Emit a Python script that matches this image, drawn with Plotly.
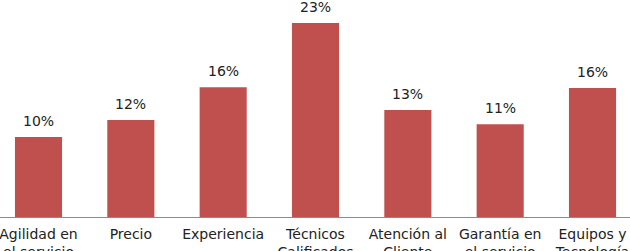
import plotly.graph_objects as go

categories = ["Agilidad en<br>el servicio", "Precio", "Experiencia", "Técnicos<br>Calificados",
              "Atención al<br>Cliente", "Garantía en<br>el servicio", "Equipos y<br>Tecnología"]
values = [9.5, 11.5, 15.4, 23.0, 12.7, 11.0, 15.3]
labels = ["10%", "12%", "16%", "23%", "13%", "11%", "16%"]

fig = go.Figure(go.Bar(
    x=categories, y=values,
    marker=dict(color="#C0504D", line=dict(width=0)),
    cliponaxis=False,
))
for c, v, t in zip(categories, values, labels):
    fig.add_annotation(x=c, y=v, text=t, showarrow=False, yanchor="bottom", yshift=6,
                       font=dict(family="DejaVu Sans", size=14, color="#222222"))
fig.update_layout(
    width=630, height=251,
    margin=dict(l=0, r=0, t=0, b=34),
    paper_bgcolor="white", plot_bgcolor="white",
    bargap=0.49, showlegend=False,
    font=dict(family="DejaVu Sans", size=14, color="#222222"),
)
fig.update_xaxes(range=[-0.417, 6.406], showline=True, linecolor="#8c8c8c", linewidth=1,
                 ticks="", showgrid=False, tickfont=dict(size=14, color="#222222"),
                 ticklabelstandoff=4, automargin=False)
fig.update_yaxes(range=[0, 25.74], visible=False, showgrid=False, automargin=False)
fig.write_html("out.html")
